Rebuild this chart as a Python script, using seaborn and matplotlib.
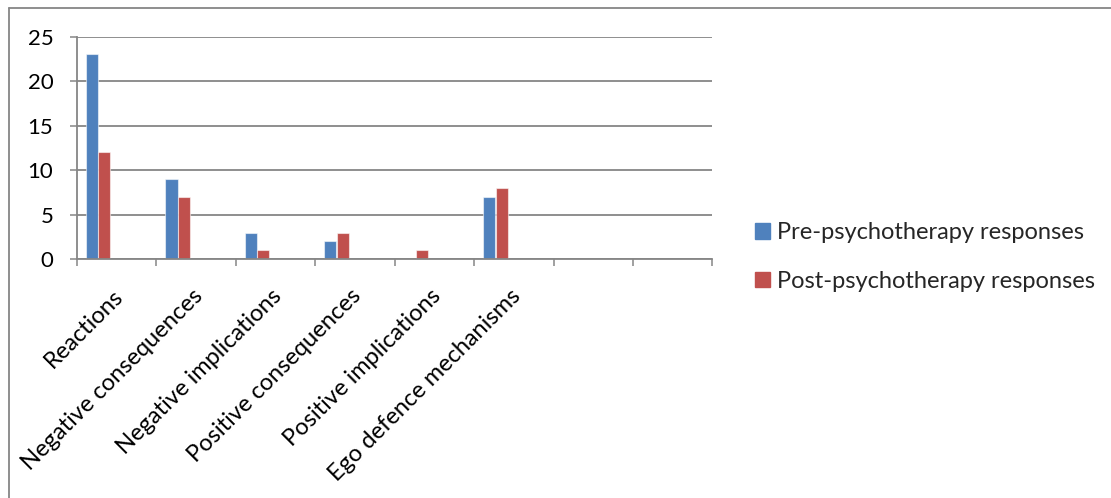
import matplotlib
matplotlib.use("Agg")
import matplotlib.pyplot as plt
import matplotlib.patches as mpatches
import matplotlib.transforms as mtransforms
import numpy as np
import pandas as pd
import seaborn as sns

# Response categories and counts per series
categories = [
    "Reactions",
    "Negative consequences",
    "Negative implications",
    "Positive consequences",
    "Positive implications",
    "Ego defence mechanisms",
]
pre_values = [23, 9, 3, 2, 0, 7]
post_values = [12, 7, 1, 3, 1, 8]
series_names = ["Pre-psychotherapy responses", "Post-psychotherapy responses"]
y_ticks = [0, 5, 10, 15, 20, 25]
n_slots = 8  # category slots on the axis (two trailing slots left empty)

sns.set_theme(style="white")
plt.rcParams["font.family"] = ["Lato", "DejaVu Sans"]

BLUE = "#4F81BD"
RED = "#C0504D"
GRAY = "#868686"

fig = plt.figure(figsize=(11.11, 4.98), dpi=100)
ax = fig.add_axes([0.0693, 0.4793, 0.5720, 0.4474])

idx = np.arange(len(categories))
bar_w = 0.152
offsets = [-0.31, -0.155]

df = pd.DataFrame({
    "pos_pre": idx + offsets[0],
    "pos_post": idx + offsets[1],
    "pre": pre_values,
    "post": post_values,
})

sns.barplot(data=df, x="pos_pre", y="pre", native_scale=True, width=bar_w,
            color=BLUE, saturation=1, edgecolor=(1, 1, 1, 0.55), linewidth=0.8,
            ax=ax, errorbar=None)
sns.barplot(data=df, x="pos_post", y="post", native_scale=True, width=bar_w,
            color=RED, saturation=1, edgecolor=(1, 1, 1, 0.55), linewidth=0.8,
            ax=ax, errorbar=None)
if ax.get_legend() is not None:
    ax.get_legend().remove()

ax.set_xlim(-0.5, n_slots - 0.5)
ax.set_ylim(0, 25)
ax.set_xlabel("")
ax.set_ylabel("")

# y axis
ax.set_yticks(y_ticks)
ax.set_yticklabels([str(v) for v in y_ticks], fontsize=16, color="black")
ax.yaxis.grid(True, color=GRAY, linewidth=1.3)
ax.set_axisbelow(True)
ax.tick_params(axis="y", which="major", direction="out", length=5, width=1.1,
               color=GRAY, pad=12, left=True)

# x axis: boundary ticks (major) and centred labels (minor)
ax.set_xticks(np.arange(n_slots + 1) - 0.5)
ax.set_xticklabels([])
ax.set_xticks(idx, minor=True)
ax.set_xticklabels(categories, minor=True, rotation=45, ha="right",
                   va="center", rotation_mode="anchor", fontsize=17,
                   color="black")
ax.tick_params(axis="x", which="major", direction="out", length=5, width=1.1,
               color=GRAY, bottom=True)
ax.tick_params(axis="x", which="minor", length=0, pad=24)
shift = mtransforms.ScaledTranslation(0.03, 0, fig.dpi_scale_trans)
for lbl in ax.get_xticklabels(minor=True):
    lbl.set_transform(lbl.get_transform() + shift)

for side in ["top", "right"]:
    ax.spines[side].set_visible(False)
for side in ["left", "bottom"]:
    ax.spines[side].set_color(GRAY)
    ax.spines[side].set_linewidth(1.3)

# legend
handles = [mpatches.Patch(color=BLUE), mpatches.Patch(color=RED)]
fig.legend(handles, series_names, loc="center left",
           bbox_to_anchor=(0.669, 0.484), frameon=False, fontsize=17,
           handlelength=0.63, handleheight=0.63, handletextpad=0.3,
           labelspacing=1.15, borderpad=0)

# outer chart-area border (left and top edges)
fig.add_artist(plt.Line2D([9.3 / 1111, 9.3 / 1111], [0, 1 - 8.3 / 498],
                          color=GRAY, linewidth=1.3, transform=fig.transFigure))
fig.add_artist(plt.Line2D([9.3 / 1111, 1], [1 - 8.3 / 498, 1 - 8.3 / 498],
                          color=GRAY, linewidth=1.3, transform=fig.transFigure))

fig.savefig("out.png", dpi=100)
